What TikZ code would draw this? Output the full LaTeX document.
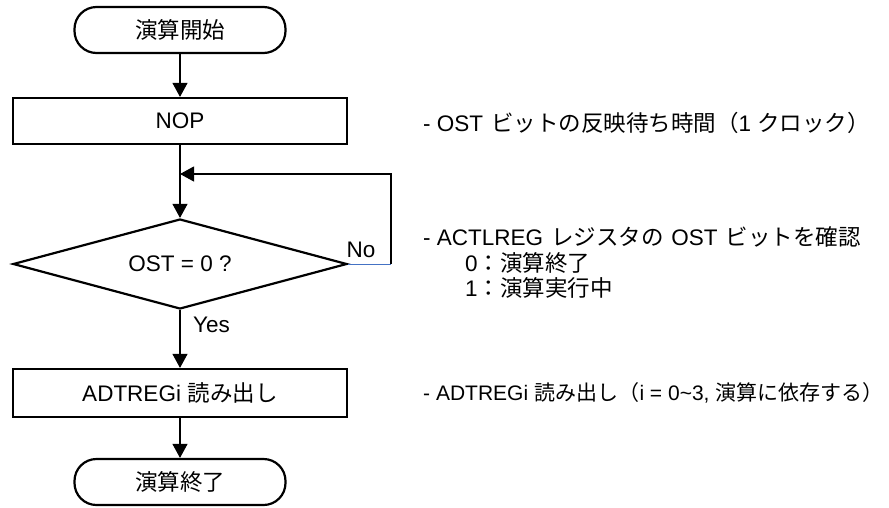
\documentclass[tikz,border=0pt]{standalone}
\usepackage{fontspec}
\setmainfont{Liberation Sans}
\newfontfamily\jp{Noto Sans CJK JP}
\usetikzlibrary{shapes.geometric,arrows.meta}
\definecolor{loopblue}{HTML}{4472C4}
\begin{document}
\begin{tikzpicture}[x=1pt,y=-1pt,
  font=\fontsize{22.5pt}{26pt}\selectfont,
  term/.style={draw,line width=2.2pt,rounded corners=22pt,minimum width=211pt,minimum height=46pt,inner sep=0pt},
  proc/.style={draw,line width=2.2pt,minimum width=334pt,minimum height=46pt,inner sep=0pt},
  decis/.style={draw,diamond,line width=2.2pt,minimum width=334pt,minimum height=90pt,inner sep=0pt,aspect=3.7},
  conn/.style={line width=1.1pt,-{Triangle[width=15pt,length=14pt]}},
  note/.style={anchor=base west,inner sep=0pt}]
\useasboundingbox (0,0) rectangle (889,507);
\node[term] (start) at (180,30) {\jp 演算開始};
\node[proc] (nop) at (180,121) {NOP};
\node[decis] (dec) at (180,264) {OST = 0 ?};
\node[proc,minimum height=48pt] (adt) at (180,393) {ADTREGi\hspace{0.3em}{\jp 読み出し}};
\node[term] (fin) at (180,482) {\jp 演算終了};
\draw[conn] (start) -- (nop);
\draw[conn] (nop) -- (dec);
\draw[conn] (dec) -- (adt);
\draw[conn] (adt) -- (fin);
\coordinate (cr) at (391,264);
\coordinate (lp) at (180,174);
\draw[loopblue,line width=1pt] (dec.east) -- (cr);
\draw[conn] (cr) |- (lp);
\node[anchor=base,inner sep=0pt] (no) at (361,257) {No};
\node[anchor=base west,inner sep=0pt] (yes) at (193,332) {Yes};
\node[note] (n1) at (423,131) {- OST\hspace{0.35em}{\jp ビットの反映待ち時間（}1 {\jp クロック）}};
\node[note] (n2) at (423,245) {- ACTLREG\hspace{0.35em}{\jp レジスタの}\hspace{0.35em}OST\hspace{0.35em}{\jp ビットを確認}};
\node[note] (n3) at (465,271) {0{\jp ：演算終了}};
\node[note] (n4) at (465,296) {1{\jp ：演算実行中}};
\node[note,font=\fontsize{21pt}{26pt}\selectfont] (n5) at (423,400) {- ADTREGi\hspace{0.3em}{\jp 読み出し（}i = 0\textasciitilde 3, {\jp 演算に依存する）}};
\end{tikzpicture}
\end{document}
